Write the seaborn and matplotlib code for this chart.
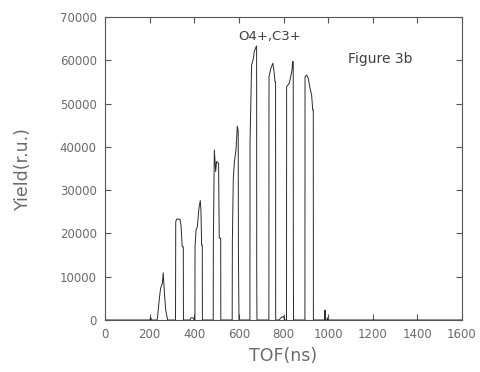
import numpy as np
import pandas as pd
import seaborn as sns
import matplotlib.pyplot as plt

# TOF spectrum trace (ns, relative yield)
tof = [
    0, 200, 205, 210,
    232, 235, 242, 249, 257, 261, 266, 272, 281,
    316, 317, 321, 336, 341, 346, 351, 351.5,
    380, 385, 395, 400,
    403, 403.5, 408, 414, 421, 427, 430, 433, 436, 436.5,
    485, 485.5, 490, 496, 500, 509, 512, 518.5, 519,
    570, 570.8, 575, 580, 587, 593, 597, 598, 600.5,
    649.5, 650, 657, 665, 669, 677, 679.5, 680, 681,
    734.5, 735, 743, 752, 757, 762, 764.5, 765,
    780, 790, 800, 805,
    813.5, 814, 826, 832, 838, 841, 843.5, 844, 845,
    896, 896.5, 904, 911, 919, 926, 931, 933.5, 934,
    984, 986, 988, 995, 997, 999, 1600,
]
yield_ru = [
    0, 0, 500, 0,
    0, 300, 4200, 7300, 8500, 10900, 6500, 2300, 0,
    0, 22700, 23300, 23300, 21600, 16900, 16900, 0,
    0, 500, 500, 0,
    0, 16900, 20800, 21600, 25800, 27600, 25400, 17300, 17300, 0,
    0, 16900, 39300, 34300, 36600, 36200, 18900, 18900, 0,
    0, 18100, 32700, 36600, 39300, 44800, 43500, 15500, 0,
    0, 40900, 58900, 60400, 62000, 63100, 63300, 10900, 0,
    0, 56200, 58100, 59300, 57700, 55000, 55000, 0,
    0, 600, 800, 0,
    0, 53900, 54700, 56200, 57700, 59700, 59700, 16900, 0,
    0, 56200, 56600, 55800, 53500, 52000, 48500, 48500, 0,
    0, 2300, 0, 0, 500, 0, 0,
]

df = pd.DataFrame({"tof": tof, "yield": yield_ru})

sns.set_style("ticks")
plt.rcParams["font.family"] = ["DejaVu Sans"]
text_color = "#6a6a6a"

fig = plt.figure(figsize=(4.81, 3.72), dpi=100)
ax = fig.add_axes([0.2183, 0.1398, 0.7422, 0.8145])

sns.lineplot(data=df, x="tof", y="yield", ax=ax, estimator=None, sort=False,
             color="#2a2a2a", linewidth=0.7)

ax.set_xlim(0, 1600)
ax.set_ylim(0, 70000)
ax.set_xticks(np.arange(0, 1601, 200))
ax.set_yticks(np.arange(0, 70001, 10000))
ax.tick_params(direction="in", length=4, width=0.8, top=True, right=True,
               labelsize=8.5, labelcolor=text_color, color="#555555", pad=6)
for spine in ax.spines.values():
    spine.set_visible(True)
    spine.set_color("#555555")
    spine.set_linewidth(0.8)

ax.set_xlabel("TOF(ns)", fontsize=12.5, color=text_color, labelpad=4)
ax.set_ylabel("Yield(r.u.)", fontsize=12.5, color=text_color, labelpad=20)

ax.text(740, 65400, "O4+,C3+", ha="center", va="center", fontsize=9.5, color="#404040")
ax.text(1233, 60400, "Figure 3b", ha="center", va="center", fontsize=10, color="#404040")

fig.savefig("out.png", dpi=100)
